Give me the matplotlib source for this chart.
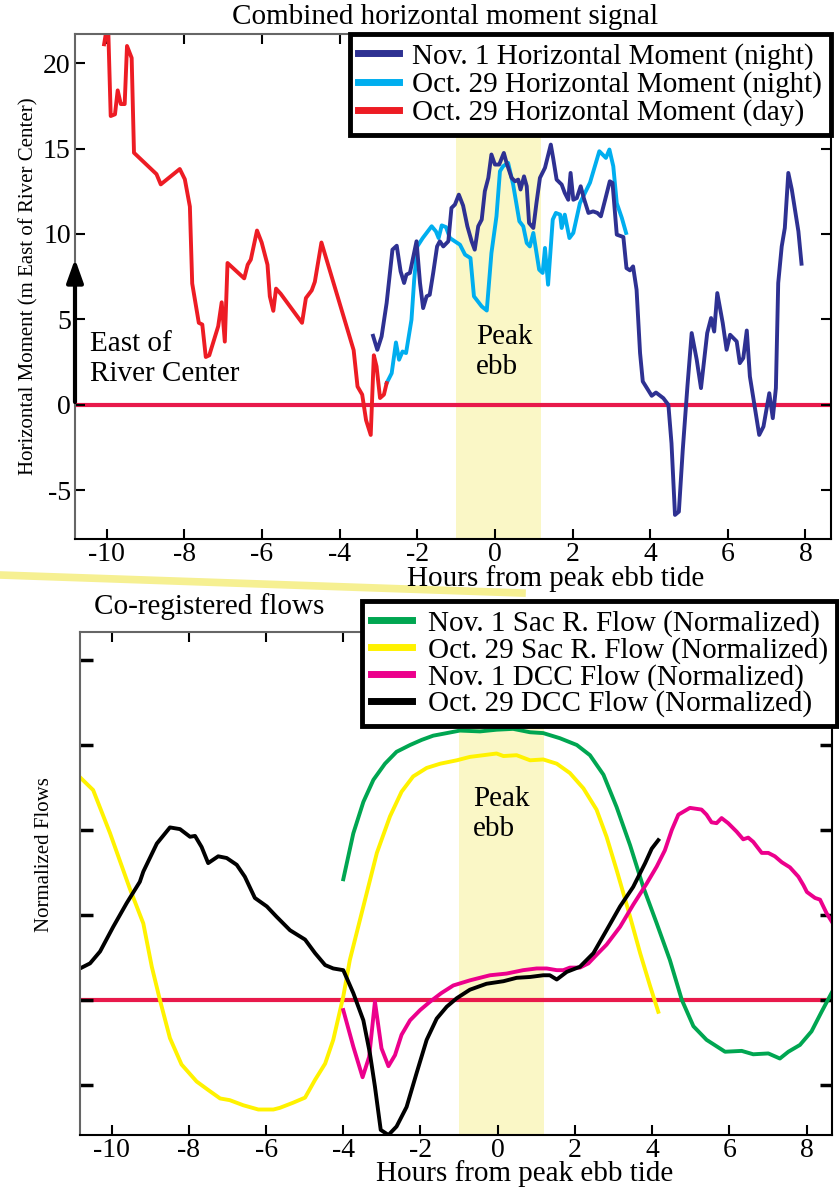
import matplotlib.pyplot as plt
from matplotlib.lines import Line2D

plt.rcParams['font.family'] = ['Liberation Serif', 'DejaVu Serif']
plt.rcParams['axes.unicode_minus'] = False

# top panel: horizontal moment (m east of river center) vs hours from peak ebb
day29_hours = [-10.07, -9.97, -9.90, -9.79, -9.72, -9.64, -9.54, -9.48, -9.36, -9.30,
               -8.72, -8.61, -8.12, -7.99, -7.86, -7.80, -7.63, -7.54, -7.45, -7.36,
               -7.13, -7.04, -6.96, -6.89, -6.46, -6.37, -6.29, -6.13, -6.01, -5.86,
               -5.80, -5.71, -5.64, -5.52, -4.97, -4.87, -4.72, -4.64, -4.47, -3.64,
               -3.54, -3.42, -3.32, -3.20, -3.12, -3.05, -2.96, -2.86, -2.79]
day29_moment = [21.1, 22.5, 16.9, 17.0, 18.4, 17.6, 17.6, 21.0, 20.3, 14.75,
                13.5, 12.9, 13.8, 13.2, 11.6, 7.1, 4.8, 4.7, 2.8, 2.9,
                4.6, 6.0, 3.7, 8.3, 7.4, 8.2, 8.5, 10.2, 9.5, 8.2,
                6.35, 5.5, 6.8, 6.5, 4.8, 6.25, 6.7, 7.2, 9.5, 3.2,
                1.07, 0.6, -0.9, -1.76, 2.9, 2.25, 0.4, 0.6, 1.27]

night29_hours = [-2.79, -2.66, -2.55, -2.47, -2.38, -2.29, -2.15, -2.08, -2.00, -1.86,
                 -1.63, -1.52, -1.45, -1.37, -1.26, -1.16, -0.90, -0.77, -0.63, -0.54,
                 -0.34, -0.21, -0.09, 0.04, 0.13, 0.21, 0.34, 0.47, 0.63, 0.73,
                 0.82, 0.90, 0.99, 1.14, 1.23, 1.29, 1.37, 1.49, 1.57, 1.68,
                 1.72, 1.80, 1.92, 2.02, 2.19, 2.45, 2.69, 2.86, 2.95, 3.05,
                 3.14, 3.27, 3.38]
night29_moment = [1.27, 1.85, 3.65, 2.64, 3.12, 3.03, 4.98, 7.32, 9.27, 9.76,
                  10.45, 10.15, 9.76, 10.5, 10.4, 9.76, 9.37, 8.79, 8.59, 6.35,
                  5.76, 5.52, 8.88, 11.03, 13.67, 13.96, 14.16, 12.89, 10.74, 10.45,
                  9.47, 9.27, 10.06, 7.91, 7.72, 9.18, 7.03, 10.84, 11.23, 11.13,
                  10.35, 11.13, 9.76, 10.06, 11.8, 13.0, 14.84, 14.45, 14.94, 13.96,
                  11.8, 10.94, 10.06]

nov1_hours = [-3.14, -3.03, -2.92, -2.79, -2.64, -2.53, -2.43, -2.34, -2.28, -2.19,
              -2.02, -1.93, -1.85, -1.76, -1.68, -1.59, -1.49, -1.42, -1.33, -1.20,
              -1.12, -1.03, -0.93, -0.82, -0.71, -0.60, -0.52, -0.43, -0.34, -0.26,
              -0.17, -0.09, 0.00, 0.11, 0.23, 0.30, 0.43, 0.52, 0.60, 0.66,
              0.75, 0.82, 0.88, 0.99, 1.07, 1.16, 1.29, 1.44, 1.50, 1.59,
              1.72, 1.80, 1.89, 1.95, 2.02, 2.11, 2.21, 2.29, 2.41, 2.53,
              2.64, 2.73, 2.84, 2.96, 3.03, 3.14, 3.31, 3.39, 3.48, 3.56,
              3.65, 3.74, 3.81, 4.04, 4.15, 4.34, 4.47, 4.55, 4.64, 4.74,
              4.84, 4.96, 5.07, 5.20, 5.31, 5.47, 5.57, 5.65, 5.73, 5.87,
              5.97, 6.06, 6.23, 6.31, 6.40, 6.49, 6.57, 6.81, 6.92, 7.07,
              7.16, 7.24, 7.30, 7.39, 7.47, 7.56, 7.65, 7.82, 7.90]
nov1_moment = [4.04, 3.22, 4.0, 5.96, 9.08, 9.31, 7.81, 7.13, 7.62, 7.72,
               9.57, 7.13, 5.66, 6.35, 6.44, 7.72, 9.27, 9.57, 9.27, 9.57,
               11.52, 11.72, 12.3, 11.66, 10.45, 9.57, 9.08, 10.45, 10.84, 12.5,
               13.28, 14.65, 14.06, 14.06, 14.74, 14.16, 13.28, 13.08, 13.18, 12.6,
               13.37, 12.79, 10.64, 10.35, 11.8, 13.28, 13.87, 15.23, 14.45, 13.18,
               12.89, 12.4, 12.0, 13.57, 12.0, 12.1, 12.79, 12.1, 11.23, 11.32,
               11.23, 11.03, 12.0, 13.08, 12.99, 9.96, 9.82, 8.0, 7.87, 8.1,
               6.74, 3.03, 1.37, 0.53, 0.72, 0.39, 0.0, -2.25, -6.44, -6.25,
               -2.64, 1.07, 4.2, 2.64, 0.98, 4.2, 5.08, 4.29, 6.54, 4.79,
               3.22, 4.1, 3.71, 2.44, 2.74, 4.35, 1.66, -1.76, -1.27, 0.68,
               -0.78, 0.98, 7.13, 9.27, 10.35, 13.57, 12.6, 10.15, 8.26]

# bottom panel: normalized flows
sac_nov1_hours = [-4.00, -3.74, -3.48, -3.22, -2.92, -2.62, -2.27, -1.97, -1.67, -1.32,
                  -0.98, -0.46, -0.03, 0.40, 0.84, 1.18, 1.61, 2.05, 2.39, 2.74,
                  3.08, 3.43, 3.77, 4.12, 4.46, 4.77, 5.07, 5.41, 5.89, 6.32,
                  6.62, 7.01, 7.31, 7.53, 7.83, 8.13, 8.39, 8.67]
sac_nov1_flow = [1.42, 1.96, 2.33, 2.59, 2.78, 2.92, 3.00, 3.06, 3.11, 3.14,
                 3.17, 3.16, 3.18, 3.19, 3.15, 3.14, 3.08, 3.00, 2.88, 2.65,
                 2.27, 1.82, 1.33, 0.90, 0.47, 0.0, -0.31, -0.47, -0.61, -0.60,
                 -0.64, -0.63, -0.69, -0.61, -0.53, -0.37, -0.14, 0.10]

sac_oct29_hours = [-10.82, -10.48, -10.04, -9.53, -9.18, -8.96, -8.75, -8.49, -8.19, -7.80,
                   -7.50, -7.19, -6.94, -6.59, -6.20, -5.81, -5.64, -5.30, -4.99, -4.73,
                   -4.47, -4.26, -4.00, -3.83, -3.48, -3.13, -2.79, -2.49, -2.19, -1.84,
                   -1.49, -1.06, -0.72, -0.37, -0.03, 0.15, 0.49, 0.84, 1.18, 1.53,
                   1.87, 2.22, 2.56, 2.82, 3.08, 3.38, 3.69, 3.95, 4.16]
sac_oct29_flow = [2.62, 2.47, 1.96, 1.31, 0.90, 0.39, 0.0, -0.45, -0.76, -0.96,
                  -1.06, -1.16, -1.18, -1.24, -1.29, -1.29, -1.27, -1.21, -1.15, -0.94,
                  -0.75, -0.47, 0.04, 0.47, 1.10, 1.73, 2.16, 2.45, 2.63, 2.73,
                  2.78, 2.82, 2.86, 2.88, 2.90, 2.87, 2.88, 2.82, 2.83, 2.78,
                  2.67, 2.49, 2.24, 1.92, 1.53, 1.06, 0.55, 0.16, -0.14]

dcc_nov1_hours = [-4.00, -3.74, -3.50, -3.33, -3.18, -3.01, -2.83, -2.66, -2.49, -2.27,
                  -2.01, -1.75, -1.46, -1.15, -0.72, -0.20, 0.23, 0.66, 1.01, 1.27,
                  1.53, 1.70, 1.87, 2.13, 2.35, 2.56, 2.82, 3.17, 3.51, 3.86,
                  4.12, 4.33, 4.51, 4.68, 4.98, 5.28, 5.41, 5.54, 5.67, 5.80,
                  5.97, 6.19, 6.36, 6.49, 6.62, 6.84, 7.01, 7.18, 7.36, 7.57,
                  7.79, 7.92, 8.01, 8.22, 8.35, 8.52, 8.67]
dcc_nov1_flow = [-0.12, -0.55, -0.91, -0.67, -0.02, -0.57, -0.78, -0.65, -0.41, -0.24,
                 -0.12, -0.02, 0.08, 0.17, 0.23, 0.29, 0.31, 0.35, 0.37, 0.37,
                 0.35, 0.35, 0.38, 0.38, 0.43, 0.53, 0.65, 0.86, 1.12, 1.37,
                 1.57, 1.76, 2.00, 2.18, 2.26, 2.24, 2.18, 2.09, 2.08, 2.14,
                 2.08, 1.98, 1.89, 1.91, 1.86, 1.73, 1.73, 1.69, 1.62, 1.56,
                 1.45, 1.35, 1.27, 1.20, 1.18, 1.02, 0.91]

dcc_oct29_hours = [-10.82, -10.56, -10.30, -9.96, -9.61, -9.27, -9.18, -8.83, -8.49, -8.23,
                   -7.97, -7.84, -7.67, -7.50, -7.24, -7.02, -6.76, -6.55, -6.29, -5.98,
                   -5.73, -5.38, -4.99, -4.73, -4.47, -4.26, -4.00, -3.74, -3.48, -3.31,
                   -3.18, -3.03, -2.83, -2.62, -2.36, -2.10, -1.84, -1.58, -1.32, -1.06,
                   -0.72, -0.29, 0.15, 0.49, 0.84, 1.18, 1.35, 1.53, 1.79, 2.13,
                   2.48, 2.82, 3.17, 3.51, 3.82, 3.99, 4.16]
dcc_oct29_flow = [0.37, 0.43, 0.57, 0.86, 1.14, 1.39, 1.51, 1.84, 2.03, 2.01,
                  1.92, 1.93, 1.80, 1.61, 1.69, 1.67, 1.59, 1.45, 1.20, 1.10,
                  0.98, 0.82, 0.71, 0.55, 0.41, 0.37, 0.35, 0.08, -0.24, -0.63,
                  -1.02, -1.53, -1.59, -1.49, -1.26, -0.86, -0.47, -0.22, -0.08, 0.02,
                  0.12, 0.19, 0.22, 0.26, 0.27, 0.29, 0.29, 0.24, 0.33, 0.39,
                  0.55, 0.82, 1.10, 1.33, 1.61, 1.78, 1.88]

peak_ebb = [-1.0, 1.2]
hour_ticks = [-10, -8, -6, -4, -2, 0, 2, 4, 6, 8]
moment_ticks = [-5, 0, 5, 10, 15, 20]
flow_ticks = [-1, 0, 1, 2, 3, 4]

NAVY = '#2e3192'
CYAN = '#00aeef'
RED = '#ed1c24'
GREEN = '#00a651'
YELLOW = '#fff200'
MAGENTA = '#ec008c'
ZERO = '#e8194b'
BAND = '#faf7c6'

FS = 21      # titles, legends, annotations
TFS = 20     # tick labels
LW = 2.8

fig = plt.figure(figsize=(8.39, 11.87), dpi=100)
ax1 = fig.add_axes([75 / 839, 1 - 539 / 1187, 756 / 839, 505 / 1187])
ax2 = fig.add_axes([80 / 839, 1 - 1135 / 1187, 752 / 839, 503 / 1187])


def style_axes(ax):
    ax.set_xlim(-10.82, 8.66)
    ax.set_xticks(hour_ticks)
    ax.tick_params(direction='in', top=True, right=True, length=7, width=1.5,
                   labelsize=TFS)
    ax.tick_params(axis='x', pad=2)
    ax.tick_params(axis='y', pad=3)
    for side in ['left', 'top']:
        ax.spines[side].set_color('#666666')
        ax.spines[side].set_linewidth(1.5)
    for side in ['right', 'bottom']:
        ax.spines[side].set_color('black')
        ax.spines[side].set_linewidth(1.5)
    ax.axvspan(peak_ebb[0], peak_ebb[1], color=BAND, zorder=0, lw=0)
    ax.axhline(0, color=ZERO, lw=3, zorder=1)


# ---- top panel
style_axes(ax1)
ax1.set_ylim(-7.85, 21.7)
ax1.set_yticks(moment_ticks)
ax1.plot(nov1_hours, nov1_moment, color=NAVY, lw=LW, zorder=3,
         label='Nov. 1 Horizontal Moment (night)')
ax1.plot(night29_hours, night29_moment, color=CYAN, lw=LW, zorder=2,
         label='Oct. 29 Horizontal Moment (night)')
ax1.plot(day29_hours, day29_moment, color=RED, lw=LW, zorder=2,
         label='Oct. 29 Horizontal Moment (day)')
leg1 = ax1.legend(loc='upper right', bbox_to_anchor=(1.0, 1.0), borderaxespad=0,
                  fontsize=FS, frameon=True, fancybox=False, framealpha=1,
                  edgecolor='black', handlelength=1.4, handletextpad=0.45,
                  labelspacing=0.05, borderpad=0.3)
leg1.get_frame().set_linewidth(3.5)
leg1.set_zorder(5)
for h in leg1.get_lines():
    h.set_linewidth(5)

ax1.annotate('', xy=(-10.82, 8.7), xytext=(-10.82, 0),
             arrowprops=dict(arrowstyle='-|>,head_length=1.4,head_width=0.5',
                             color='black', lw=3), annotation_clip=False, zorder=4)
ax1.text(-10.44, 2.67, 'East of\nRiver Center', fontsize=FS, va='center', ha='left')
ax1.text(-0.49, 3.1, 'Peak\nebb', fontsize=FS, va='center', ha='left')
ax1.set_ylabel('Horizontal Moment (m East of River Center)', fontsize=15)
ax1.yaxis.set_label_coords(-0.048, 0.5)

fig.text(445.5 / 839, 1 - 17 / 1187, 'Combined horizontal moment signal',
         fontsize=FS, ha='center', va='center')
fig.text(556 / 839, 1 - 579 / 1187, 'Hours from peak ebb tide',
         fontsize=FS, ha='center', va='center', zorder=5)

# yellow stroke between the panels
fig.add_artist(Line2D([0, 522 / 839], [1 - 575 / 1187, 1 - 593 / 1187],
                      transform=fig.transFigure, color='#f6f092', lw=5.5, zorder=0))

# ---- bottom panel
style_axes(ax2)
ax2.set_ylim(-1.59, 4.33)
ax2.set_yticks(flow_ticks)
ax2.set_yticklabels([])
ax2.tick_params(axis='y', length=9, width=2.5, color='black')
ax2.plot(sac_nov1_hours, sac_nov1_flow, color=GREEN, lw=LW, zorder=2,
         label='Nov. 1 Sac R. Flow (Normalized)')
ax2.plot(sac_oct29_hours, sac_oct29_flow, color=YELLOW, lw=LW, zorder=2,
         label='Oct. 29 Sac R. Flow (Normalized)')
ax2.plot(dcc_nov1_hours, dcc_nov1_flow, color=MAGENTA, lw=LW, zorder=2,
         label='Nov. 1 DCC Flow (Normalized)')
ax2.plot(dcc_oct29_hours, dcc_oct29_flow, color='black', lw=LW, zorder=2,
         label='Oct. 29 DCC Flow (Normalized)')
leg2 = ax2.legend(loc='upper right', bbox_to_anchor=(837 / 839, 1 - 601 / 1187),
                  bbox_transform=fig.transFigure, borderaxespad=0,
                  fontsize=FS, frameon=True, fancybox=False, framealpha=1,
                  edgecolor='black', handlelength=1.4, handletextpad=0.55,
                  labelspacing=0.0, borderpad=0.3)
leg2.get_frame().set_linewidth(3.5)
leg2.set_zorder(5)
for h in leg2.get_lines():
    h.set_linewidth(5)

ax2.text(-0.63, 2.19, 'Peak\nebb', fontsize=FS, va='center', ha='left')
ax2.set_ylabel('Normalized Flows', fontsize=15)
ax2.yaxis.set_label_coords(-0.035, 0.557)

fig.text(209 / 839, 1 - 607 / 1187, 'Co-registered flows',
         fontsize=FS, ha='center', va='center')
fig.text(525 / 839, 1 - 1174 / 1187, 'Hours from peak ebb tide',
         fontsize=FS, ha='center', va='center')

fig.savefig('out.png', dpi=100)
